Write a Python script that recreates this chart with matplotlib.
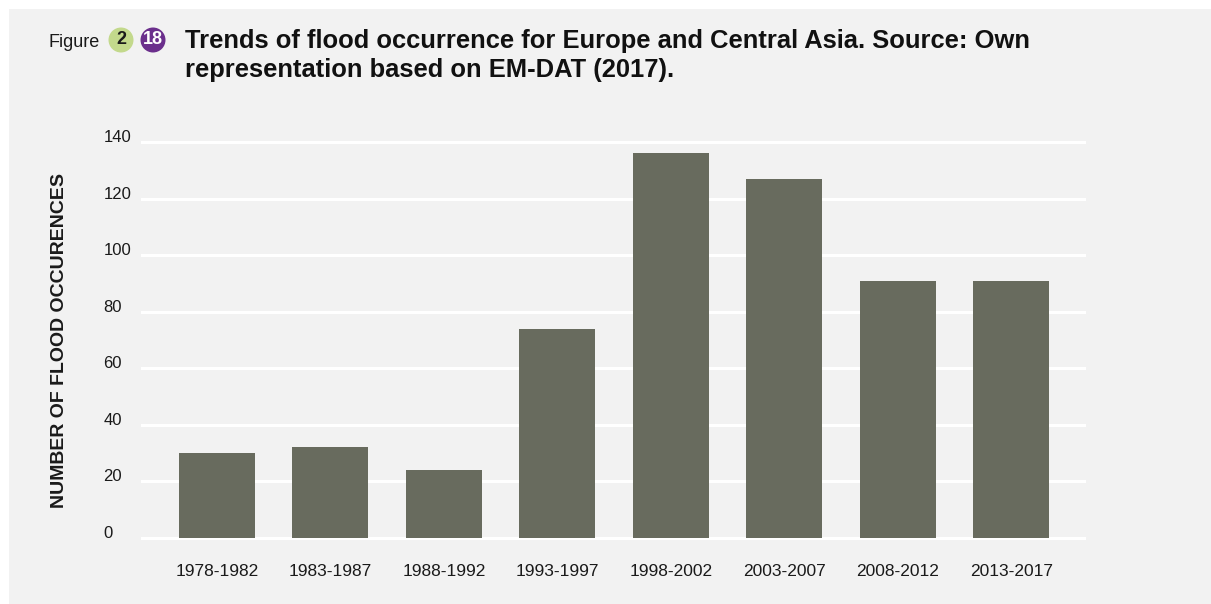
import matplotlib
matplotlib.use('Agg')
from matplotlib import pyplot as plt
from matplotlib.patches import Rectangle, Ellipse

periods = ['1978-1982', '1983-1987', '1988-1992', '1993-1997',
           '1998-2002', '2003-2007', '2008-2012', '2013-2017']
floods = [30, 32, 24, 74, 136, 127, 91, 91]
yticks = [0, 20, 40, 60, 80, 100, 120, 140]

plt.rcParams['font.family'] = ['Liberation Sans', 'DejaVu Sans']

W, H = 1211, 604
fig = plt.figure(figsize=(W / 100, H / 100), dpi=100)
fig.patch.set_facecolor('white')

# grey panel behind everything
fig.patches.append(Rectangle((9 / W, 0), 1 - 9 / W, (H - 9) / H,
                             transform=fig.transFigure, facecolor='#f2f2f2',
                             edgecolor='none', zorder=-10))

# axes placement: y=0 at px 538, y=140 at px 142
ppu = (538 - 142) / 140
y0, y1 = -0.7, 140.7
bottom = (H - 538 - (-y0) * ppu) / H
height = (y1 - y0) * ppu / H
ax = fig.add_axes([141 / W, bottom, (1086 - 141) / W, height])
ax.set_facecolor('none')

x = range(len(periods))
ax.bar(x, floods, width=0.67, color='#686b5e', zorder=3)
ax.set_xlim(-0.67, 7.66)
ax.set_ylim(y0, y1)

for v in yticks:
    ax.axhline(v, color='white', lw=2.2, zorder=1)

ax.set_yticks(yticks)
ax.set_xticks(list(x))
ax.set_xticklabels(periods, fontsize=12.5, color='#1a1a1a')
ax.tick_params(axis='x', length=0, pad=17)
ax.tick_params(axis='y', length=0, pad=27, labelsize=12, labelcolor='#1a1a1a')
for lab in ax.get_yticklabels():
    lab.set_horizontalalignment('left')
    lab.set_verticalalignment('baseline')
for s in ax.spines.values():
    s.set_visible(False)

fig.text(60 / W, 1 - 340 / H, 'NUMBER OF FLOOD OCCURENCES', rotation=90,
         ha='center', va='center', fontsize=14, fontweight='bold',
         color='#1a1a1a')

# header
fig.text(48 / W, 1 - 47 / H, 'Figure', fontsize=13, color='#1a1a1a',
         va='baseline', ha='left')
for cx, col, txt, tc in [(121, '#c3d98c', '2', '#1a1a1a'),
                         (153, '#6b2f8c', '18', 'white')]:
    fig.patches.append(Ellipse((cx / W, 1 - 40 / H), 25 / W, 25 / H,
                               transform=fig.transFigure, facecolor=col,
                               edgecolor='none'))
    fig.text(cx / W, 1 - 40 / H, txt, fontsize=13, fontweight='bold',
             color=tc, ha='center', va='center')

fig.text(185 / W, 1 - 29 / H,
         'Trends of flood occurrence for Europe and Central Asia. Source: Own\n'
         'representation based on EM-DAT (2017).',
         fontsize=18.4, fontweight='bold', color='#111111', ha='left',
         va='top', linespacing=1.25)

fig.savefig('out.png', dpi=100)
